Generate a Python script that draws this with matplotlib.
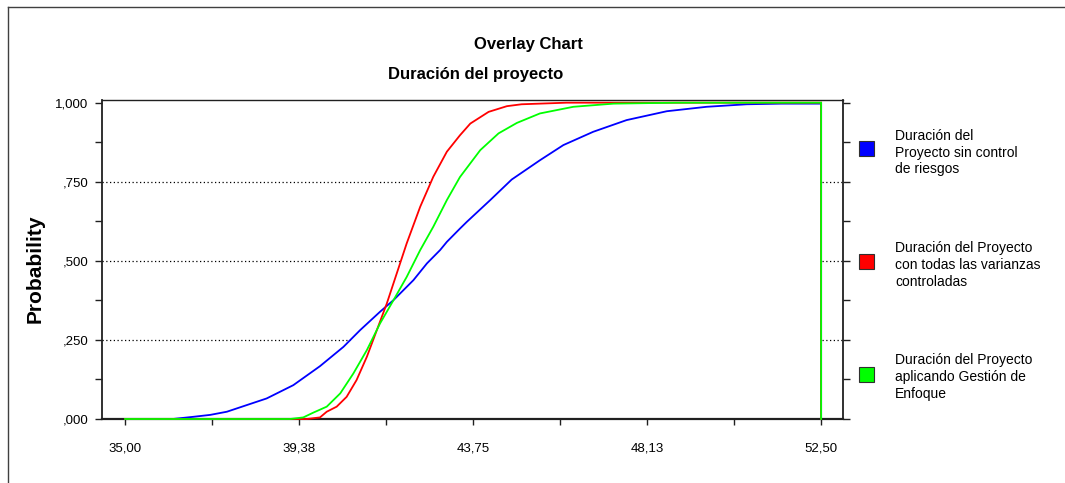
import matplotlib
matplotlib.use("Agg")
import matplotlib.pyplot as plt
from matplotlib import font_manager
from matplotlib.patches import Rectangle
from matplotlib.lines import Line2D
from matplotlib.ticker import FixedLocator, NullFormatter

# ---------------- data ----------------
blue_x = [35.0, 36.2, 36.72, 37.14, 37.56, 38.06, 38.56, 39.23, 39.9, 40.49, 40.91, 41.41,
          41.75, 42.25, 42.59, 42.92, 43.09, 43.42, 43.59, 44.18, 44.72, 45.43, 46.02, 46.77,
          47.61, 48.62, 49.62, 50.63, 51.5, 52.5, 52.5]
blue_p = [0, 0, 0.007, 0.013, 0.023, 0.044, 0.065, 0.107, 0.167, 0.228, 0.281, 0.339,
          0.376, 0.439, 0.492, 0.534, 0.56, 0.602, 0.623, 0.692, 0.757, 0.818, 0.866, 0.908,
          0.945, 0.973, 0.987, 0.995, 0.997, 0.997, 0]

red_x = [35.0, 39.57, 39.9, 40.07, 40.32, 40.57, 40.82, 41.08, 41.33, 41.58, 41.83, 42.08,
         42.42, 42.75, 43.09, 43.42, 43.68, 44.14, 44.6, 44.97, 46.1, 52.5, 52.5]
red_p = [0, 0, 0.005, 0.023, 0.039, 0.07, 0.123, 0.197, 0.281, 0.365, 0.46, 0.555,
         0.671, 0.766, 0.845, 0.897, 0.934, 0.971, 0.989, 0.995, 1.0, 1.0, 0]

green_x = [35.0, 39.15, 39.48, 39.73, 40.07, 40.41, 40.74, 41.08, 41.41, 41.75, 42.08, 42.42,
           42.75, 43.09, 43.42, 43.93, 44.39, 44.85, 45.43, 46.27, 47.28, 48.87, 52.5, 52.5]
green_p = [0, 0, 0.005, 0.02, 0.039, 0.081, 0.144, 0.218, 0.302, 0.376, 0.449, 0.534,
           0.608, 0.692, 0.765, 0.85, 0.903, 0.936, 0.966, 0.987, 0.997, 1.0, 1.0, 0]

series_labels = ["Duración del\nProyecto sin control\nde riesgos",
                 "Duración del Proyecto\ncon todas las varianzas\ncontroladas",
                 "Duración del Proyecto\naplicando Gestión de\nEnfoque"]
series_colors = ["#0000FF", "#FF0000", "#00FF00"]

x_ticks = [35.0, 39.375, 43.75, 48.125, 52.5]
x_tick_labels = ["35,00", "39,38", "43,75", "48,13", "52,50"]
y_ticks = [0.0, 0.25, 0.5, 0.75, 1.0]
y_tick_labels = [",000", ",250", ",500", ",750", "1,000"]

title1 = "Overlay Chart"
title2 = "Duración del proyecto"
y_label = "Probability"

# ---------------- fonts ----------------
avail = {f.name for f in font_manager.fontManager.ttflist}
narrow = "Liberation Sans Narrow" if "Liberation Sans Narrow" in avail else "Liberation Sans"
regular = "Liberation Sans" if "Liberation Sans" in avail else "DejaVu Sans"

W, H = 1065, 483
fig = plt.figure(figsize=(W / 100, H / 100), dpi=100)
fig.patch.set_facecolor("white")

# outer frame (top-left visible)
fig.add_artist(Line2D([8 / W, 8 / W], [0, 1 - 7 / H], transform=fig.transFigure,
                      color="#404040", lw=1.0))
fig.add_artist(Line2D([8 / W, 1], [1 - 7 / H, 1 - 7 / H], transform=fig.transFigure,
                      color="#404040", lw=1.0))

ax = fig.add_axes([102 / W, 1 - 419 / H, (843 - 102) / W, (419 - 100) / H])
ax.set_xlim(34.42, 53.05)
ax.set_ylim(0, 1.0085)

# grid lines (hidden under curves by white fills)
for g in [0.25, 0.5, 0.75]:
    ax.axhline(g, color="black", lw=0.9, ls=(0, (1, 2)), zorder=1)

for xs, ps in [(blue_x, blue_p), (red_x, red_p), (green_x, green_p)]:
    ax.fill_between(xs, 0, ps, color="white", lw=0, zorder=1.5)

for xs, ps, c in [(blue_x, blue_p, series_colors[0]),
                  (red_x, red_p, series_colors[1]),
                  (green_x, green_p, series_colors[2])]:
    ax.plot(xs, ps, color=c, lw=1.3, zorder=3, clip_on=False, solid_joinstyle="miter")

# spines
for s in ["left", "right", "top", "bottom"]:
    ax.spines[s].set_color("#202020")
ax.spines["left"].set_linewidth(1.3)
ax.spines["right"].set_linewidth(1.3)
ax.spines["top"].set_linewidth(1.0)
ax.spines["bottom"].set_linewidth(1.6)

ax.xaxis.set_major_locator(FixedLocator(x_ticks))
ax.set_xticklabels(x_tick_labels)
ax.xaxis.set_minor_locator(FixedLocator([(a + b) / 2 for a, b in zip(x_ticks[:-1], x_ticks[1:])]))
ax.yaxis.set_major_locator(FixedLocator(y_ticks))
ax.set_yticklabels(y_tick_labels)
ax.yaxis.set_minor_locator(FixedLocator([(a + b) / 2 for a, b in zip(y_ticks[:-1], y_ticks[1:])]))
ax.xaxis.set_minor_formatter(NullFormatter())
ax.yaxis.set_minor_formatter(NullFormatter())

ax.tick_params(axis="x", which="both", direction="out", length=4, width=1, color="#202020",
               pad=13, labelsize=9.5, labelfontfamily=narrow)
ax.tick_params(axis="y", which="both", direction="out", length=5, width=1, color="#202020",
               right=True, labelright=False, pad=5, labelsize=9.5, labelfontfamily=narrow)

fig.text(35 / W, 1 - 269 / H, y_label, rotation=90, ha="center", va="center",
         fontsize=15, fontweight="bold", family=regular)

fig.text(528 / W, 1 - 45 / H, title1, ha="center", va="center", fontsize=12,
         fontweight="bold", family=narrow)
fig.text(476 / W, 1 - 75 / H, title2, ha="center", va="center", fontsize=12,
         fontweight="bold", family=narrow)

# legend
sq_centers = [148, 261.5, 374]
txt_centers = [152.5, 265, 377]
for lab, c, yc, yt in zip(series_labels, series_colors, sq_centers, txt_centers):
    fig.add_artist(Rectangle((859 / W, 1 - (yc + 7.5) / H), 15 / W, 15 / H,
                             transform=fig.transFigure, facecolor=c, edgecolor="#303030", lw=0.8))
    fig.text(895 / W, 1 - yt / H, lab, ha="left", va="center", fontsize=10,
             family=regular, linespacing=1.25)

fig.savefig("out.png", dpi=100, facecolor="white")
